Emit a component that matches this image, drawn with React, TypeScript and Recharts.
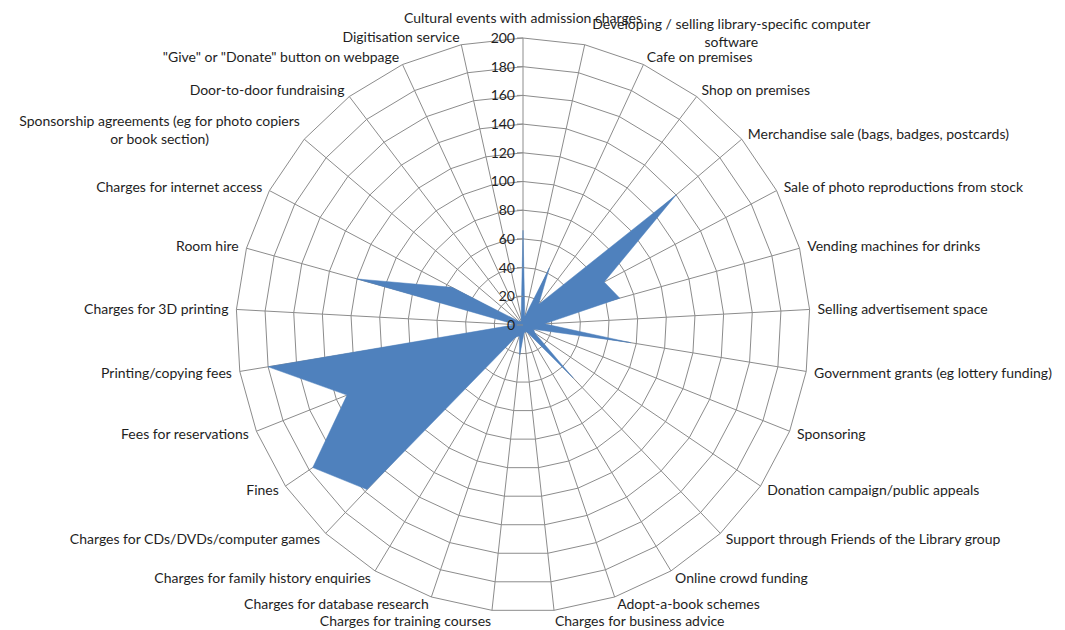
import { RadarChart, Radar, PolarGrid, PolarAngleAxis, PolarRadiusAxis } from 'recharts';

const categories = [
  'Cultural events with admission charges',
  'Developing / selling library-specific computer software',
  'Cafe on premises',
  'Shop on premises',
  'Merchandise sale (bags, badges, postcards)',
  'Sale of photo reproductions from stock',
  'Vending machines for drinks',
  'Selling advertisement space',
  'Government grants (eg lottery funding)',
  'Sponsoring',
  'Donation campaign/public  appeals',
  'Support through  Friends of the Library group',
  'Online crowd funding',
  'Adopt-a-book schemes',
  'Charges for business advice',
  'Charges for training courses',
  'Charges for database  research',
  'Charges for family history enquiries',
  'Charges for CDs/DVDs/computer  games',
  'Fines',
  'Fees for reservations',
  'Printing/copying fees',
  'Charges for 3D printing',
  'Room hire',
  'Charges for internet access',
  'Sponsorship agreements (eg for photo copiers or book section)',
  'Door-to-door fundraising',
  '"Give" or "Donate" button on webpage',
  'Digitisation service',
];

const counts = [
  66, 6, 44, 18, 140, 64, 70, 15, 76, 8, 10, 51, 6, 5, 6,
  21, 8, 10, 158, 177, 132, 180, 5, 120, 56, 4, 3, 3, 6,
];

const radiusTicks = [0, 20, 40, 60, 80, 100, 120, 140, 160, 180, 200];

const data = categories.map((name, i) => ({ name, count: counts[i] }));

const FONT = 'Lato, "Open Sans", sans-serif';
const TEXT = '#1e1e1e';
const GRID = '#8c8c8c';
const FS = 14;

// split long category names the way the spreadsheet wrapped them
function wrapLabel(text: string, max = 46): string[] {
  if (text.length <= max) return [text];
  const words = text.split(' ');
  const lines: string[] = [];
  let cur = '';
  for (const w of words) {
    const next = cur ? cur + ' ' + w : w;
    if (next.length > max && cur) {
      lines.push(cur);
      cur = w;
    } else cur = next;
  }
  if (cur) lines.push(cur);
  return lines;
}

function AngleTick(props: any) {
  const { x, y, cy, payload, textAnchor } = props;
  const lines = wrapLabel(String(payload.value));
  if (lines.length === 1) {
    let dy = textAnchor === 'middle' ? -12 : 0;
    // bottom-most pair sits a little lower, as in the original
    if (cy !== undefined && y - cy > 290) dy = 3;
    return (
      <text x={x} y={y + dy} dy="0.35em" textAnchor={textAnchor} fontSize={FS} fontFamily={FONT} fill={TEXT}>
        {lines[0]}
      </text>
    );
  }
  const w = lines[0].length * 6.3;
  const mid = textAnchor === 'end' ? x - w / 2 : textAnchor === 'start' ? x + w / 2 : x;
  const top = y - 4 - ((lines.length - 1) * 18) / 2;
  return (
    <text textAnchor="middle" fontSize={FS} fontFamily={FONT} fill={TEXT}>
      {lines.map((l, i) => (
        <tspan key={i} x={mid} y={top + i * 18} dy="0.35em">
          {l}
        </tspan>
      ))}
    </text>
  );
}

function RadiusTick(props: any) {
  const { x, y, payload } = props;
  return (
    <g>
      <line x1={x - 6} y1={y} x2={x} y2={y} stroke={GRID} />
      <text x={x - 8} y={y} dy="0.35em" textAnchor="end" fontSize={FS} fontFamily={FONT} fill={TEXT}>
        {payload.value}
      </text>
    </g>
  );
}

export default function App() {
  return (
    <div style={{ position: 'absolute', left: 0, top: 0, width: 1065, height: 630, background: '#fff' }}>
      <RadarChart width={1065} height={630} data={data} cx={523} cy={325} outerRadius={287}>
        <PolarGrid gridType="polygon" stroke={GRID} />
        <PolarAngleAxis dataKey="name" tick={AngleTick} tickLine={false} axisLine={false} />
        <PolarRadiusAxis
          angle={90}
          domain={[0, 200]}
          ticks={radiusTicks}
          tickCount={11}
          axisLine={false}
          tickLine={false}
          tick={RadiusTick}
        />
        <Radar dataKey="count" fill="#4f81bd" fillOpacity={1} stroke="#4f81bd" strokeWidth={0.5} isAnimationActive={false} />
      </RadarChart>
    </div>
  );
}
